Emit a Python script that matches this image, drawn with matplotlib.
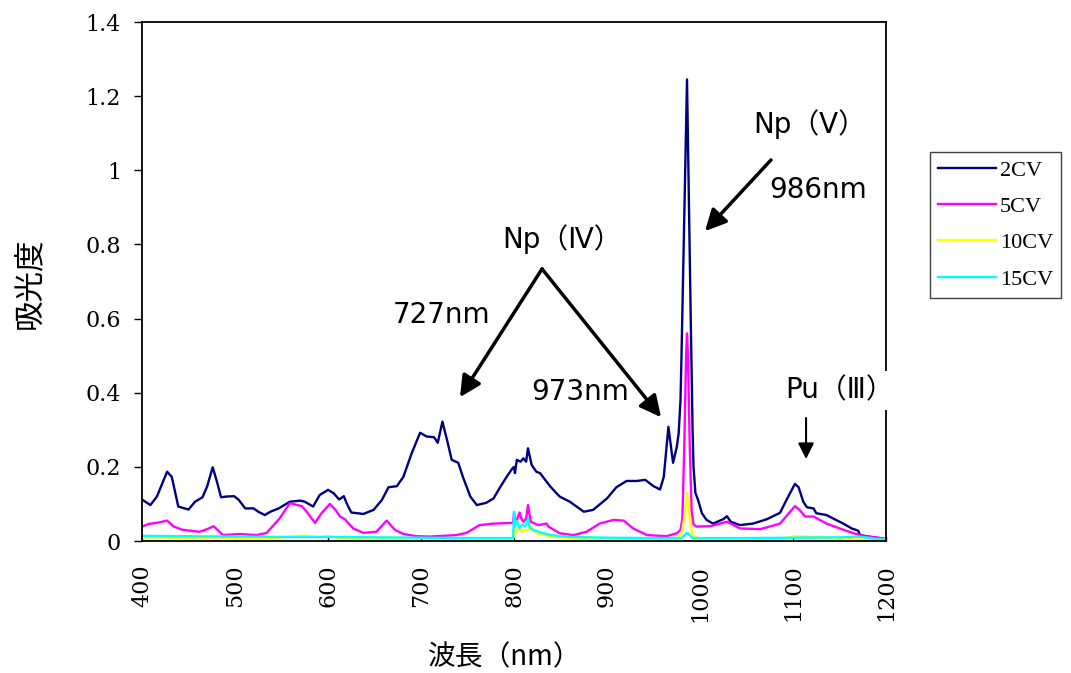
import matplotlib
matplotlib.use("Agg")
import matplotlib.pyplot as plt
from matplotlib.ticker import FuncFormatter, MultipleLocator

# wavelength (nm) / absorbance
wl_2cv = [400, 409, 416, 427, 432, 439, 450, 457, 465, 470,
          476, 480, 485, 491, 499, 504, 511, 520, 525, 532,
          538, 547, 559, 570, 575, 584, 591, 600, 606, 612,
          617, 620, 625, 638, 649, 658, 665, 674, 681, 690,
          699, 706, 714, 718, 723, 728, 733, 740, 745, 753,
          760, 770, 778, 785, 792, 798, 800, 801, 803, 807,
          810, 813, 815, 819, 824, 828, 839, 849, 860, 875,
          885, 900, 910, 921, 932, 941, 950, 957, 961, 966,
          971, 975, 977, 979, 980, 986, 990, 991, 992, 993,
          995, 998, 1002, 1007, 1014, 1025, 1029, 1033, 1043, 1057,
          1072, 1086, 1093, 1102, 1106, 1111, 1115, 1122, 1125, 1136,
          1143, 1154, 1163, 1170, 1172, 1186, 1200]
abs_2cv = [0.112, 0.097, 0.120, 0.187, 0.173, 0.093, 0.085, 0.106, 0.118, 0.147,
           0.199, 0.165, 0.118, 0.120, 0.121, 0.111, 0.088, 0.088, 0.079, 0.070,
           0.079, 0.088, 0.106, 0.109, 0.106, 0.093, 0.124, 0.138, 0.129, 0.112,
           0.121, 0.102, 0.077, 0.073, 0.084, 0.111, 0.145, 0.148, 0.173, 0.237,
           0.292, 0.282, 0.280, 0.265, 0.322, 0.272, 0.219, 0.211, 0.173, 0.120,
           0.097, 0.103, 0.115, 0.145, 0.173, 0.195, 0.200, 0.183, 0.219, 0.214,
           0.223, 0.214, 0.250, 0.205, 0.187, 0.183, 0.147, 0.120, 0.106, 0.079,
           0.084, 0.115, 0.145, 0.162, 0.162, 0.165, 0.148, 0.139, 0.173, 0.308,
           0.211, 0.254, 0.290, 0.380, 0.490, 1.245, 0.600, 0.450, 0.300, 0.200,
           0.130, 0.110, 0.075, 0.057, 0.047, 0.059, 0.067, 0.052, 0.043, 0.047,
           0.059, 0.076, 0.111, 0.154, 0.145, 0.106, 0.091, 0.088, 0.075, 0.070,
           0.061, 0.047, 0.034, 0.028, 0.016, 0.010, 0.005]

wl_5cv = [400, 407, 416, 427, 434, 444, 462, 470, 477, 482,
          487, 505, 523, 534, 548, 559, 572, 577, 586, 593,
          602, 608, 613, 618, 627, 638, 652, 663, 672, 681,
          695, 710, 738, 749, 763, 778, 799, 800, 801, 803,
          806, 808, 810, 813, 815, 818, 826, 835, 837, 849,
          864, 878, 892, 907, 918, 928, 943, 964, 975, 979,
          981, 983, 985, 986, 987, 989, 991, 993, 996, 1011,
          1029, 1043, 1065, 1086, 1102, 1107, 1113, 1122, 1136, 1150,
          1165, 1176, 1190, 1200]
abs_5cv = [0.039, 0.046, 0.049, 0.055, 0.039, 0.030, 0.025, 0.032, 0.040, 0.028,
           0.016, 0.019, 0.016, 0.022, 0.061, 0.102, 0.094, 0.079, 0.049, 0.075,
           0.100, 0.084, 0.066, 0.059, 0.034, 0.022, 0.025, 0.055, 0.030, 0.019,
           0.013, 0.012, 0.016, 0.022, 0.043, 0.047, 0.049, 0.075, 0.050, 0.057,
           0.077, 0.060, 0.052, 0.060, 0.097, 0.052, 0.043, 0.047, 0.039, 0.021,
           0.016, 0.025, 0.047, 0.057, 0.055, 0.034, 0.016, 0.013, 0.021, 0.030,
           0.060, 0.250, 0.500, 0.560, 0.500, 0.250, 0.080, 0.045, 0.039, 0.040,
           0.052, 0.034, 0.032, 0.047, 0.094, 0.084, 0.066, 0.066, 0.047, 0.034,
           0.021, 0.013, 0.010, 0.005]

wl_10cv = [400, 430, 460, 480, 500, 530, 560, 575, 590, 600,
           615, 640, 680, 700, 720, 750, 780, 799, 800, 802,
           805, 808, 812, 815, 818, 824, 835, 846, 870, 900,
           940, 975, 980, 983, 986, 989, 992, 1000, 1050, 1090,
           1100, 1115, 1140, 1170, 1200]
abs_10cv = [0.010, 0.009, 0.007, 0.010, 0.006, 0.005, 0.012, 0.015, 0.010, 0.013,
            0.008, 0.006, 0.005, 0.008, 0.006, 0.004, 0.005, 0.005, 0.030, 0.022,
            0.035, 0.025, 0.030, 0.028, 0.040, 0.021, 0.015, 0.010, 0.006, 0.004,
            0.004, 0.006, 0.020, 0.060, 0.130, 0.060, 0.015, 0.006, 0.004, 0.006,
            0.013, 0.012, 0.008, 0.006, 0.003]

wl_15cv = [400, 450, 500, 550, 600, 650, 700, 750, 799, 800,
           801, 803, 806, 809, 812, 815, 817, 820, 830, 840,
           860, 900, 950, 980, 986, 992, 1000, 1050, 1100, 1150,
           1170, 1190, 1200]
abs_15cv = [0.014, 0.013, 0.012, 0.011, 0.011, 0.010, 0.009, 0.008, 0.008, 0.079,
            0.040, 0.055, 0.035, 0.045, 0.040, 0.060, 0.035, 0.030, 0.022, 0.016,
            0.011, 0.009, 0.008, 0.008, 0.022, 0.008, 0.008, 0.008, 0.009, 0.010,
            0.012, 0.006, 0.004]

labels = ["2CV", "5CV", "10CV", "15CV"]
colors = ["#000080", "#FF00FF", "#FFFF00", "#00FFFF"]

sans = ["DejaVu Sans", "Noto Sans CJK JP"]
cjk = ["Noto Sans CJK JP", "DejaVu Sans"]

fig = plt.figure(figsize=(10.71, 6.73), dpi=100)
ax = fig.add_axes([0.1326, 0.1961, 0.6947, 0.7712])

series = [(wl_2cv, abs_2cv), (wl_5cv, abs_5cv), (wl_10cv, abs_10cv), (wl_15cv, abs_15cv)]
for (x, y), lab, c in zip(series, labels, colors):
    ax.plot(x, y, color=c, lw=1.7, label=lab)

ax.set_xlim(400, 1200)
ax.set_ylim(0, 1.4)
ax.xaxis.set_major_locator(MultipleLocator(100))
ax.yaxis.set_major_locator(MultipleLocator(0.2))
ax.yaxis.set_major_formatter(FuncFormatter(lambda v, p: "%g" % round(v, 2)))
ax.tick_params(axis="y", direction="out", length=6, width=1, pad=9,
               labelsize=16, labelfontfamily="DejaVu Serif")
ax.tick_params(axis="x", direction="in", length=3, width=1, pad=17, labelrotation=90,
               labelsize=16, labelfontfamily="DejaVu Serif")
for s in ax.spines.values():
    s.set_linewidth(1.3)

fig.text(0.028, 0.5795, "吸光度", rotation=90, ha="center", va="center",
         family=cjk, fontsize=22)
fig.text(0.4715, 0.024, "波長（nm）", ha="center", va="center", family=cjk, fontsize=20)

# annotations
big = dict(arrowstyle="-|>", mutation_scale=32, lw=2.5, color="black", shrinkA=0, shrinkB=0)
ax.annotate("", xy=(1005.4, 0.836), xytext=(1076.3, 1.028), arrowprops=big)
ax.annotate("", xy=(741.9, 0.388), xytext=(830.1, 0.734), arrowprops=big)
ax.annotate("", xy=(958.1, 0.334), xytext=(830.1, 0.734), arrowprops=big)
ax.annotate("", xy=(1114, 0.221), xytext=(1114, 0.332),
            arrowprops=dict(arrowstyle="-|>", mutation_scale=24, lw=1.5, color="black",
                            shrinkA=0, shrinkB=0))

ax.text(1118.3, 1.125, "Np（Ⅴ）", ha="center", va="center", family=sans, fontsize=20)
ax.text(1126.9, 0.947, "986nm", ha="center", va="center", family=sans, fontsize=20)
ax.text(851.6, 0.815, "Np（Ⅳ）", ha="center", va="center", family=sans, fontsize=20)
ax.text(722.6, 0.610, "727nm", ha="center", va="center", family=sans, fontsize=20)
ax.text(871.0, 0.402, "973nm", ha="center", va="center", family=sans, fontsize=20)
ax.text(1149.5, 0.407, "Pu（Ⅲ）", ha="center", va="center", family=sans, fontsize=20,
        bbox=dict(facecolor="white", edgecolor="none", pad=4), zorder=5, clip_on=False)

leg = ax.legend(loc="upper left", bbox_to_anchor=(930 / 1071, 1 - 152 / 673),
                bbox_transform=fig.transFigure,
                prop={"family": ["Liberation Serif"], "size": 16},
                handlelength=2.6, handletextpad=0.18, labelspacing=0.71, fancybox=False,
                borderaxespad=0, borderpad=0.36, framealpha=1)
leg.get_frame().set_edgecolor("#404040")
leg.get_frame().set_linewidth(1.0)

fig.savefig("out.png", dpi=100)
